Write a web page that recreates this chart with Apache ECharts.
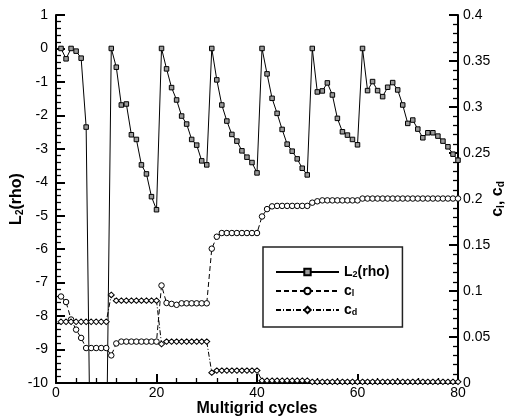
<!DOCTYPE html>
<html>
<head>
<meta charset="utf-8">
<script src="https://cdn.jsdelivr.net/npm/echarts@6/dist/echarts.min.js"></script>
<style>
  html, body { margin: 0; padding: 0; background: #fff; }
  #chart { width: 506px; height: 417px; }
</style>
</head>
<body>
<div id="chart"></div>
<script>
// multigrid cycle number for every sample
const cycles = [
  0, 1, 2, 3, 4, 5, 6, 7, 8, 9, 10, 11, 12, 13, 14, 15, 16, 17, 18, 19, 20,
  21, 22, 23, 24, 25, 26, 27, 28, 29, 30, 31, 32, 33, 34, 35, 36, 37, 38, 39, 40,
  41, 42, 43, 44, 45, 46, 47, 48, 49, 50, 51, 52, 53, 54, 55, 56, 57, 58, 59, 60,
  61, 62, 63, 64, 65, 66, 67, 68, 69, 70, 71, 72, 73, 74, 75, 76, 77, 78, 79, 80
];

// L2(rho) residual, left axis
const l2rho = [
  0, 0, -0.31, 0.0, -0.08, -0.29, -2.35, -14.5, -14, -13.5, -12.7,
  0, -0.56, -1.69, -1.66, -2.58, -2.72, -3.48, -3.75, -4.43, -4.82,
  0, -0.61, -1.17, -1.54, -2.02, -2.26, -2.72, -2.89, -3.36, -3.48,
  0, -0.94, -1.69, -2.17, -2.57, -2.77, -3.06, -3.25, -3.41, -3.72,
  0, -0.76, -1.49, -1.94, -2.42, -2.86, -3.07, -3.30, -3.58, -3.78,
  0, -1.30, -1.27, -1.03, -1.39, -2.09, -2.49, -2.59, -2.72, -2.88,
  0, -1.26, -0.99, -1.26, -1.44, -1.16, -1.02, -1.24, -1.69, -2.24,
  -2.14, -2.41, -2.67, -2.52, -2.52, -2.62, -2.77, -2.94, -3.16, -3.34
];

// lift coefficient, right axis
const cl = [
  null, 0.094, 0.088, 0.069, 0.058, 0.049, 0.038, 0.038, 0.038, 0.038, 0.038,
  0.030, 0.043, 0.045, 0.045, 0.045, 0.045, 0.045, 0.045, 0.045, 0.045,
  0.106, 0.087, 0.086, 0.085, 0.0866, 0.0866, 0.0866, 0.0866, 0.0866, 0.0866,
  0.146, 0.159, 0.163, 0.163, 0.163, 0.163, 0.163, 0.163, 0.163, 0.163,
  0.181, 0.189, 0.192, 0.1925, 0.1925, 0.1925, 0.1925, 0.1925, 0.1925, 0.1925,
  0.196, 0.1975, 0.1985, 0.1985, 0.1985, 0.1985, 0.1985, 0.1985, 0.1985, 0.1985,
  0.2005, 0.2005, 0.2005, 0.2005, 0.2005, 0.2005, 0.2005, 0.2005, 0.2005, 0.2005,
  0.2005, 0.2005, 0.2005, 0.2005, 0.2005, 0.2005, 0.2005, 0.2005, 0.2005, 0.2005
];

// drag coefficient, right axis
const cd = [
  null, 0.0666, 0.0666, 0.0666, 0.0666, 0.0666, 0.0666, 0.0666, 0.0666, 0.0666, 0.0666,
  0.0957, 0.0895, 0.0895, 0.0895, 0.0895, 0.0895, 0.0895, 0.0895, 0.0895, 0.0895,
  0.0424, 0.045, 0.045, 0.045, 0.045, 0.045, 0.045, 0.045, 0.045, 0.045,
  0.0112, 0.0135, 0.0135, 0.0135, 0.0135, 0.0135, 0.0135, 0.0135, 0.0135, 0.0135,
  0.0025, 0.0025, 0.0025, 0.0025, 0.0025, 0.0025, 0.0025, 0.0025, 0.0025, 0.0025,
  0.0013, 0.0013, 0.0013, 0.0013, 0.0013, 0.0013, 0.0013, 0.0013, 0.0013, 0.0013,
  0.0013, 0.0013, 0.0013, 0.0013, 0.0013, 0.0013, 0.0013, 0.0013, 0.0013, 0.0013,
  0.0013, 0.0013, 0.0013, 0.0013, 0.0013, 0.0013, 0.0013, 0.0013, 0.0013, 0.0013
];

const legendLabels = {
  'L2(rho)': '{b|L}{s|2}{b|(rho)}',
  'cl': '{b|c}{s|l}',
  'cd': '{b|c}{s|d}'
};

const FONT = '"Liberation Sans", Arial, sans-serif';

const pairs = (ys) => cycles.map((x, i) => [x, ys[i]]);

const richSub = (size) => ({
  b: { fontFamily: FONT, fontWeight: 'bold', fontSize: size, color: '#000', lineHeight: size },
  s: { fontFamily: FONT, fontWeight: 'bold', fontSize: Math.round(size * 0.62), color: '#000',
       verticalAlign: 'bottom', lineHeight: size, padding: [Math.round(size * 0.45), 0, 0, 0] }
});

const axisCommon = {
  nameMoveOverlap: false,
  axisLine: { show: true, onZero: false, lineStyle: { color: '#000', width: 2 } },
  axisTick: { show: true, inside: true, length: 9, lineStyle: { color: '#000', width: 2 } },
  minorTick: { show: true, splitNumber: 5, length: 5, lineStyle: { color: '#000', width: 1.3 } },
  splitLine: { show: false },
  axisLabel: { color: '#000', fontFamily: FONT, fontSize: 14 }
};

const chart = echarts.init(document.getElementById('chart'));

chart.setOption({
  animation: false,
  backgroundColor: '#fff',
  grid: { left: 56, right: 48, top: 15, bottom: 34, outerBoundsMode: 'none', containLabel: false },
  xAxis: {
    type: 'value',
    min: 0, max: 80, interval: 20,
    name: 'Multigrid cycles',
    nameLocation: 'middle',
    nameGap: 18,
    nameTextStyle: { fontFamily: FONT, fontWeight: 'bold', fontSize: 16, color: '#000' },
    ...axisCommon,
    axisLabel: { ...axisCommon.axisLabel, margin: 3 }
  },
  yAxis: [
    {
      type: 'value',
      position: 'left',
      min: -10, max: 1, interval: 1,
      name: '{b|L}{s|2}{b|(rho)}',
      nameLocation: 'middle',
      nameRotate: 90,
      nameGap: 31,
      nameTextStyle: { rich: richSub(16) },
      ...axisCommon,
      axisLabel: { ...axisCommon.axisLabel, margin: 8 }
    },
    {
      type: 'value',
      position: 'right',
      min: 0, max: 0.4, interval: 0.05,
      name: '{b|c}{s|l}{b|, c}{s|d}',
      nameLocation: 'middle',
      nameRotate: 90,
      nameGap: 32,
      nameTextStyle: { rich: richSub(16) },
      ...axisCommon,
      axisLabel: { ...axisCommon.axisLabel, margin: 5 }
    }
  ],
  legend: {
    orient: 'vertical',
    left: 263,
    top: 247,
    padding: [17, 13, 10, 12],
    borderColor: '#222',
    borderWidth: 1.5,
    itemWidth: 63,
    itemHeight: 8,
    itemGap: 4,
    data: ['L2(rho)', 'cl', 'cd'],
    formatter: (name) => legendLabels[name],
    textStyle: { rich: richSub(14) }
  },
  series: [
    {
      name: 'L2(rho)',
      type: 'line',
      yAxisIndex: 0,
      data: pairs(l2rho),
      symbol: 'rect',
      symbolSize: (v, p) => (p.dataIndex === 0 ? 0 : 4.5),
      lineStyle: { color: '#000', width: 1 },
      itemStyle: { color: '#9a9a9a', borderColor: '#000', borderWidth: 1 }
    },
    {
      name: 'cl',
      type: 'line',
      yAxisIndex: 1,
      data: pairs(cl),
      symbol: 'circle',
      symbolSize: 5.5,
      lineStyle: { color: '#000', width: 1, type: [5, 3] },
      itemStyle: { color: '#fff', borderColor: '#000', borderWidth: 1 }
    },
    {
      name: 'cd',
      type: 'line',
      yAxisIndex: 1,
      data: pairs(cd),
      symbol: 'diamond',
      symbolSize: [6, 5.5],
      lineStyle: { color: '#000', width: 1, type: [5, 2, 1, 2] },
      itemStyle: { color: '#fff', borderColor: '#000', borderWidth: 1 }
    }
  ]
});

window.addEventListener('resize', () => chart.resize());
</script>
</body>
</html>
